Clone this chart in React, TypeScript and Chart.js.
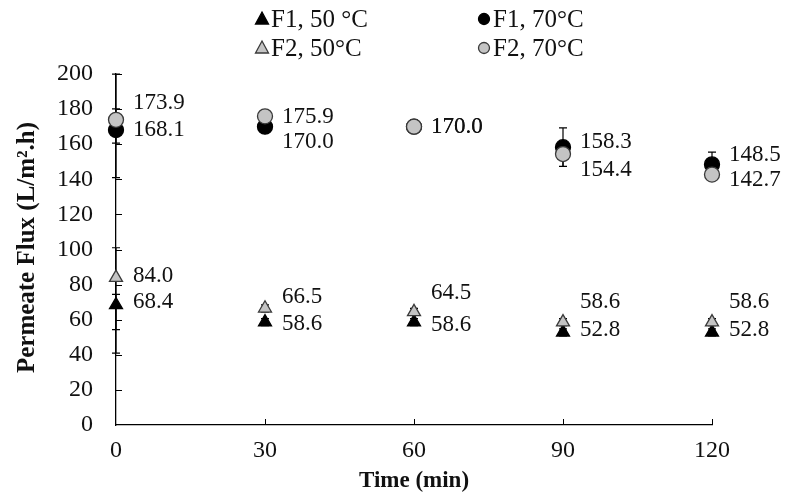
import React, { useEffect, useRef } from "react";
import { Chart, registerables } from "chart.js";

Chart.register(...registerables);

const times = [0, 30, 60, 90, 120];
const f1_50 = [68.4, 58.6, 58.6, 52.8, 52.8];
const f2_50 = [84.0, 66.5, 64.5, 58.6, 58.6];
const f1_70 = [168.1, 170.0, 170.0, 158.3, 148.5];
const f2_70 = [173.9, 175.9, 170.0, 154.4, 142.7];

const f1_50_errPlus = [6, 2, 2, 2, 2];
const f1_50_errMinus = [14, 2, 2, 2, 2];
const f2_50_errPlus = [17, 2, 2, 2, 2];
const f2_50_errMinus = [43, 2, 2, 2, 2];
const f1_70_errPlus = [12, 2, 2, 11, 7];
const f1_70_errMinus = [7.5, 2, 2, 11, 7];
const f2_70_errPlus = [26, 2, 2, 4, 3];
const f2_70_errMinus = [33, 2, 2, 7, 3];

const yTicks = [0, 20, 40, 60, 80, 100, 120, 140, 160, 180, 200];
const xTicks = [0, 30, 60, 90, 120];

const seriesNames = ["F1, 50 °C", "F2, 50°C", "F1, 70°C", "F2, 70°C"];

// label placement (pixel offsets relative to point)
const labelDy = [
  [-3, 2, 3, -2, -2],
  [-2, -11, -19, -20, -20],
  [0, 15, 0, -5, -9],
  [-17, 1, 0, 16, 5],
];

const FONT = "'Times New Roman', 'Liberation Serif', serif";
const GREY = "#c4c4c4";
const DARK = "#3a3a3a";

export default function App() {
  const ref = useRef<HTMLCanvasElement | null>(null);
  useEffect(() => {
    document.body.style.margin = "0";
    const canvas = ref.current!;
    const errs = [
      [f1_50_errPlus, f1_50_errMinus],
      [f2_50_errPlus, f2_50_errMinus],
      [f1_70_errPlus, f1_70_errMinus],
      [f2_70_errPlus, f2_70_errMinus],
    ];
    const allData = [f1_50, f2_50, f1_70, f2_70];

    const errorBars = {
      id: "errorBars",
      beforeDatasetsDraw(chart: any) {
        const ctx = chart.ctx;
        const xs = chart.scales.x;
        const ys = chart.scales.y;
        ctx.save();
        ctx.strokeStyle = "#000";
        ctx.lineWidth = 1.2;
        allData.forEach((arr, si) => {
          arr.forEach((v, i) => {
            const x = xs.getPixelForValue(times[i]);
            const yTop = ys.getPixelForValue(v + errs[si][0][i]);
            const yBot = ys.getPixelForValue(v - errs[si][1][i]);
            ctx.beginPath();
            ctx.moveTo(x, yTop);
            ctx.lineTo(x, yBot);
            ctx.moveTo(x - 4, yTop);
            ctx.lineTo(x + 4, yTop);
            ctx.moveTo(x - 4, yBot);
            ctx.lineTo(x + 4, yBot);
            ctx.stroke();
          });
        });
        ctx.restore();
      },
    };

    const decor = {
      id: "decor",
      afterDraw(chart: any) {
        const ctx = chart.ctx;
        const xs = chart.scales.x;
        const ys = chart.scales.y;
        const area = chart.chartArea;
        ctx.save();
        // inside ticks
        ctx.strokeStyle = "#000";
        ctx.lineWidth = 1;
        yTicks.forEach((t) => {
          if (t === 0) return;
          const y = Math.round(ys.getPixelForValue(t)) + 0.5;
          ctx.beginPath();
          ctx.moveTo(area.left, y);
          ctx.lineTo(area.left + 6, y);
          ctx.stroke();
        });
        xTicks.forEach((t) => {
          if (t === 0) return;
          const x = Math.round(xs.getPixelForValue(t)) + 0.5;
          ctx.beginPath();
          ctx.moveTo(x, area.bottom);
          ctx.lineTo(x, area.bottom - 6);
          ctx.stroke();
        });
        // data labels
        ctx.fillStyle = "#111";
        ctx.font = `23px ${FONT}`;
        ctx.textAlign = "left";
        ctx.textBaseline = "middle";
        allData.forEach((arr, si) => {
          arr.forEach((v, i) => {
            const x = xs.getPixelForValue(times[i]);
            const y = ys.getPixelForValue(v);
            ctx.fillText(v.toFixed(1), x + 17, y + labelDy[si][i]);
          });
        });
        // axis titles
        ctx.font = `bold 23px ${FONT}`;
        ctx.textAlign = "center";
        ctx.fillStyle = "#111";
        ctx.fillText("Time (min)", (area.left + area.right) / 2, 481);
        ctx.save();
        ctx.font = `bold 25px ${FONT}`;
        ctx.translate(28, (area.top + area.bottom) / 2 - 2);
        ctx.rotate(-Math.PI / 2);
        ctx.fillText("Permeate Flux (L/m\u00B2.h)", 0, 0);
        ctx.restore();
        // legend
        const items = [
          { x: 262, y: 19, style: "triangle", fill: "#000", stroke: "#000" },
          { x: 262, y: 48, style: "triangle", fill: GREY, stroke: DARK },
          { x: 484, y: 19, style: "circle", fill: "#000", stroke: "#000" },
          { x: 484, y: 48, style: "circle", fill: GREY, stroke: DARK },
        ];
        ctx.font = `25px ${FONT}`;
        ctx.textAlign = "left";
        items.forEach((it, k) => {
          ctx.fillStyle = it.fill;
          ctx.strokeStyle = it.stroke;
          ctx.lineWidth = 1.3;
          ctx.beginPath();
          if (it.style === "triangle") {
            ctx.moveTo(it.x, it.y - 7);
            ctx.lineTo(it.x + 6.5, it.y + 5);
            ctx.lineTo(it.x - 6.5, it.y + 5);
            ctx.closePath();
          } else {
            ctx.arc(it.x, it.y, 5.5, 0, Math.PI * 2);
          }
          ctx.fill();
          ctx.stroke();
          ctx.fillStyle = "#111";
          ctx.fillText(seriesNames[k], it.x + 9, it.y + 1);
        });
        ctx.restore();
      },
    };

    const mk = (idx: number, style: string, fill: string, stroke: string, order: number) => ({
      label: seriesNames[idx],
      data: allData[idx].map((v, i) => ({ x: times[i], y: v })),
      pointStyle: style,
      pointRadius: 7.5,
      pointBackgroundColor: fill,
      pointBorderColor: stroke,
      pointBorderWidth: 1.3,
      showLine: false,
      clip: false,
      order,
    });

    const chart = new Chart(canvas, {
      type: "scatter",
      data: {
        datasets: [
          mk(0, "triangle", "#000", "#000", 4),
          mk(1, "triangle", GREY, DARK, 3),
          mk(2, "circle", "#000", "#000", 2),
          mk(3, "circle", GREY, DARK, 1),
        ],
      },
      options: {
        animation: false,
        responsive: false,
        maintainAspectRatio: false,
        layout: { padding: { top: 74, right: 73, left: 0, bottom: 0 } },
        plugins: { legend: { display: false }, tooltip: { enabled: false } },
        scales: {
          x: {
            type: "linear",
            min: 0,
            max: 120,
            afterFit: (s: any) => {
              s.height = 67;
            },
            afterBuildTicks: (s: any) => {
              s.ticks = xTicks.map((v) => ({ value: v }));
            },
            grid: { display: false, drawTicks: false },
            border: { display: true, color: "#000", width: 1.3 },
            ticks: {
              color: "#111",
              font: { family: FONT, size: 24 },
              padding: 11,
              maxRotation: 0,
            },
          },
          y: {
            type: "linear",
            min: 0,
            max: 200,
            afterFit: (s: any) => {
              s.width = 116;
            },
            afterBuildTicks: (s: any) => {
              s.ticks = yTicks.map((v) => ({ value: v }));
            },
            grid: { display: false, drawTicks: false },
            border: { display: true, color: "#000", width: 1.3 },
            ticks: {
              color: "#111",
              font: { family: FONT, size: 24 },
              padding: 23,
            },
          },
        },
      },
      plugins: [errorBars, decor],
    } as any);
    return () => chart.destroy();
  }, []);
  return (
    <div style={{ width: 785, height: 492 }}>
      <canvas ref={ref} width={785} height={492} style={{ display: "block" }} />
    </div>
  );
}
